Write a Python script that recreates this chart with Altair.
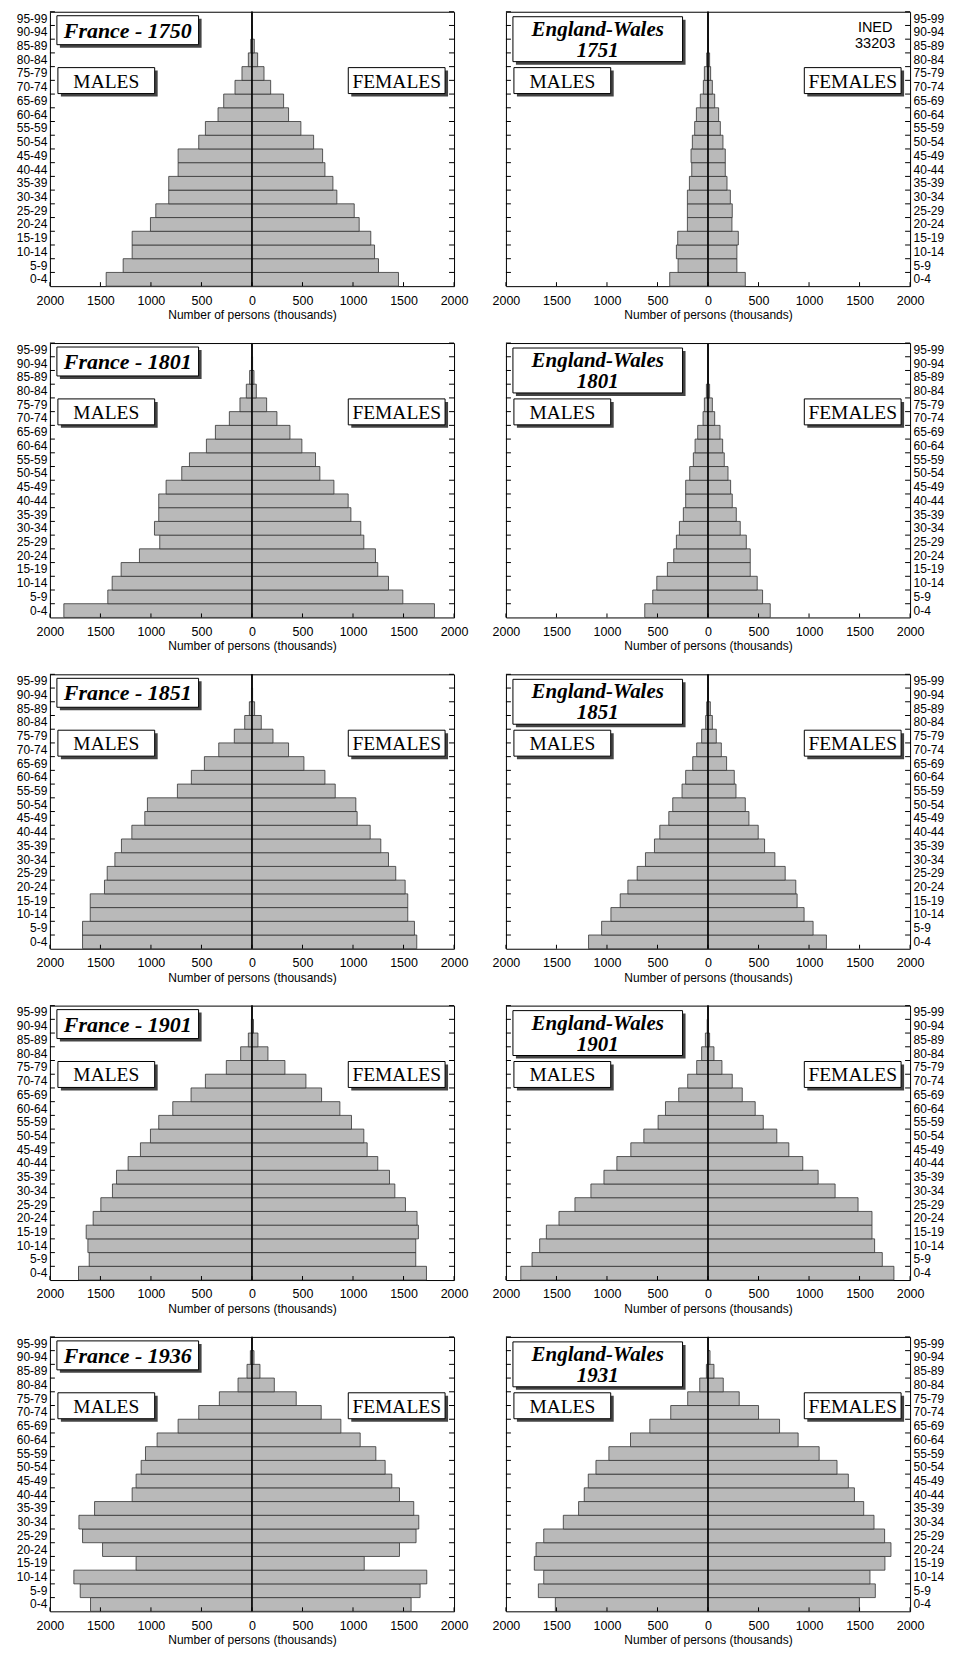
import altair as alt
import pandas as pd

# ---- categories / ticks ----
ages = ["0-4", "5-9", "10-14", "15-19", "20-24", "25-29", "30-34", "35-39", "40-44",
        "45-49", "50-54", "55-59", "60-64", "65-69", "70-74", "75-79", "80-84",
        "85-89", "90-94", "95-99"]
x_ticks = [-2000, -1500, -1000, -500, 0, 500, 1000, 1500, 2000]

# ---- values (thousands), age groups 0-4 ... 95-99 ----
fr1750_m = [1443, 1275, 1186, 1186, 1005, 952, 824, 824, 731, 731, 527, 461, 336, 280, 168, 99, 36, 12, 3, 1]
fr1750_f = [1450, 1252, 1213, 1176, 1061, 1012, 840, 801, 722, 699, 610, 484, 362, 313, 185, 119, 56, 23, 5, 1]
ew1751_m = [379, 296, 313, 300, 204, 204, 204, 184, 161, 168, 155, 132, 115, 76, 46, 36, 13, 3, 1, 0.5]
ew1751_f = [369, 286, 286, 300, 237, 240, 221, 188, 171, 171, 148, 122, 105, 66, 43, 26, 16, 5, 1, 0.5]

fr1801_m = [1862, 1427, 1384, 1295, 1114, 913, 965, 923, 923, 850, 695, 619, 451, 362, 224, 119, 56, 23, 5, 1]
fr1801_f = [1806, 1493, 1351, 1245, 1222, 1107, 1077, 979, 952, 811, 672, 629, 494, 376, 247, 145, 43, 20, 6, 1]
ew1801_m = [626, 547, 507, 402, 339, 313, 283, 244, 221, 221, 181, 145, 128, 102, 49, 36, 16, 4, 1, 0.3]
ew1801_f = [616, 540, 487, 418, 418, 379, 319, 280, 240, 224, 198, 161, 145, 119, 66, 43, 16, 5, 1, 0.3]

fr1851_m = [1677, 1677, 1601, 1601, 1460, 1433, 1357, 1292, 1189, 1061, 1035, 738, 600, 471, 329, 175, 72, 26, 5, 1]
fr1851_f = [1631, 1608, 1542, 1542, 1516, 1423, 1351, 1275, 1170, 1041, 1028, 824, 722, 514, 362, 208, 92, 26, 6, 1]
ew1851_m = [1182, 1053, 961, 869, 793, 701, 619, 530, 477, 388, 349, 257, 221, 151, 112, 63, 23, 13, 3, 0.5]
ew1851_f = [1172, 1040, 951, 882, 869, 764, 662, 560, 497, 405, 369, 277, 260, 184, 132, 82, 43, 23, 4, 1]

fr1901_m = [1717, 1611, 1624, 1641, 1572, 1496, 1381, 1341, 1226, 1104, 1005, 923, 784, 603, 461, 254, 112, 36, 6, 1]
fr1901_f = [1727, 1621, 1621, 1647, 1634, 1519, 1414, 1361, 1245, 1140, 1107, 985, 870, 689, 534, 326, 158, 59, 15, 2]
ew1901_m = [1853, 1742, 1666, 1600, 1475, 1317, 1159, 1030, 902, 764, 635, 494, 421, 290, 201, 112, 63, 26, 8, 1]
ew1901_f = [1840, 1725, 1649, 1623, 1623, 1485, 1258, 1090, 938, 800, 681, 547, 467, 339, 240, 138, 59, 16, 5, 1]

fr1936_m = [1598, 1700, 1763, 1147, 1479, 1677, 1713, 1558, 1186, 1147, 1097, 1054, 939, 731, 527, 323, 138, 49, 16, 2]
fr1936_f = [1575, 1664, 1730, 1111, 1460, 1624, 1651, 1601, 1460, 1384, 1318, 1226, 1071, 880, 685, 438, 221, 79, 20, 3]
ew1931_m = [1511, 1679, 1626, 1719, 1702, 1626, 1432, 1281, 1225, 1185, 1109, 981, 767, 576, 369, 201, 82, 16, 3, 0.5]
ew1931_f = [1498, 1656, 1603, 1751, 1811, 1748, 1643, 1541, 1449, 1389, 1277, 1100, 892, 708, 500, 309, 151, 59, 20, 3]

titles_fr = ["France - 1750", "France - 1801", "France - 1851", "France - 1901", "France - 1936"]
titles_ew = ["England-Wales\n1751", "England-Wales\n1801", "England-Wales\n1851",
             "England-Wales\n1901", "England-Wales\n1931"]
source_text = "INED\n33203"

W, H = 405, 275
age_order = ages[::-1]
one = pd.DataFrame({"k": [0]})
SANS = "Liberation Sans"
SERIF = "Liberation Serif"


def y_enc(axis, band_pos=None):
    kw = dict(scale=alt.Scale(domain=age_order, paddingInner=0, paddingOuter=0),
              sort=age_order, title=None, axis=axis)
    if band_pos is not None:
        kw["bandPosition"] = band_pos
    return alt.Y("age:N", **kw)


def x_enc():
    return alt.X("value:Q",
                 scale=alt.Scale(domain=[-2000, 2000], nice=False, zero=False),
                 axis=alt.Axis(values=x_ticks, labelExpr="format(abs(datum.value), 'd')",
                               title="Number of persons (thousands)", ticks=False, domain=False,
                               grid=False, labelPadding=8, titlePadding=3, labelFontSize=12.5,
                               titleFontSize=12, titleFontWeight="normal", labelFont=SANS,
                               titleFont=SANS, labelColor="black", titleColor="black",
                               labelFlush=False, labelOverlap=False))


def box(x0, x1, y0, y1):
    shadow = alt.Chart(one).mark_rect(color="#444").encode(
        x=alt.value(x0 + 3), x2=alt.value(x1 + 3), y=alt.value(y0 + 3), y2=alt.value(y1 + 3))
    front = alt.Chart(one).mark_rect(fill="white", stroke="black", strokeWidth=1).encode(
        x=alt.value(x0), x2=alt.value(x1), y=alt.value(y0), y2=alt.value(y1))
    return [shadow, front]


def txt(s, x, y, font, size, weight="normal", style="normal", line_height=None):
    kw = dict(font=font, fontSize=size, fontWeight=weight, fontStyle=style,
              align="center", baseline="alphabetic", color="black", lineBreak="\n")
    if line_height:
        kw["lineHeight"] = line_height
    return alt.Chart(one).mark_text(**kw).encode(
        x=alt.value(x), y=alt.value(y), text=alt.value(s))


def panel(males, females, title, orient, source=None):
    df = pd.DataFrame({"age": ages * 2,
                       "sex": ["Males"] * len(ages) + ["Females"] * len(ages),
                       "value": [-v for v in males] + list(females)})
    ext = 41 if orient == "left" else 34
    yaxis = alt.Axis(orient=orient, ticks=False, domain=False, labelPadding=3, labelFontSize=12,
                     labelFont=SANS, labelColor="black", title=None, grid=False,
                     minExtent=ext, maxExtent=ext)
    bars = alt.Chart(df).mark_bar(fill="#b9b9b9", stroke="#333", strokeWidth=0.8).encode(
        x=x_enc(), y=y_enc(yaxis))
    center = alt.Chart(one).mark_rule(color="black", strokeWidth=1.5).encode(x=alt.datum(0))
    tdf = pd.DataFrame({"age": ages})
    lt = alt.Chart(tdf).mark_rule(color="black", strokeWidth=1).encode(
        y=y_enc(yaxis, 0), x=alt.value(0), x2=alt.value(5))
    rt = alt.Chart(tdf).mark_rule(color="black", strokeWidth=1).encode(
        y=y_enc(yaxis, 0), x=alt.value(W - 5), x2=alt.value(W))
    xt = alt.Chart(pd.DataFrame({"value": x_ticks})).mark_rule(color="black", strokeWidth=1).encode(
        x=x_enc(), y=alt.value(H - 4), y2=alt.value(H))
    layers = [bars, center, lt, rt, xt]
    if "\n" not in title:
        layers += box(7, 149, 4, 33)
        layers.append(txt(title, 78, 26, SERIF, 22, "bold", "italic"))
    else:
        layers += box(7, 177, 5, 50)
        layers.append(txt(title, 92, 24, SERIF, 21, "bold", "italic", line_height=21))
    layers += box(8, 105, 56, 82)
    layers.append(txt("MALES", 56.5, 76, SERIF, 19.5))
    layers += box(299, 396, 56, 82)
    layers.append(txt("FEMALES", 347.5, 76, SERIF, 19.5))
    if source:
        layers.append(txt(source, 370, 20, SANS, 14.5, line_height=16))
    return alt.layer(*layers).properties(width=W, height=H)


data_fr = [(fr1750_m, fr1750_f), (fr1801_m, fr1801_f), (fr1851_m, fr1851_f),
           (fr1901_m, fr1901_f), (fr1936_m, fr1936_f)]
data_ew = [(ew1751_m, ew1751_f), (ew1801_m, ew1801_f), (ew1851_m, ew1851_f),
           (ew1901_m, ew1901_f), (ew1931_m, ew1931_f)]

rows = []
for i in range(5):
    left = panel(data_fr[i][0], data_fr[i][1], titles_fr[i], "left")
    right = panel(data_ew[i][0], data_ew[i][1], titles_ew[i], "right",
                  source_text if i == 0 else None)
    rows.append(alt.hconcat(left, right, spacing=22))

chart = alt.vconcat(*rows, spacing=20).properties(padding=0).configure_view(
    stroke="black", strokeWidth=1)

chart.save("out.html", embed_options={"renderer": "svg", "actions": False})
